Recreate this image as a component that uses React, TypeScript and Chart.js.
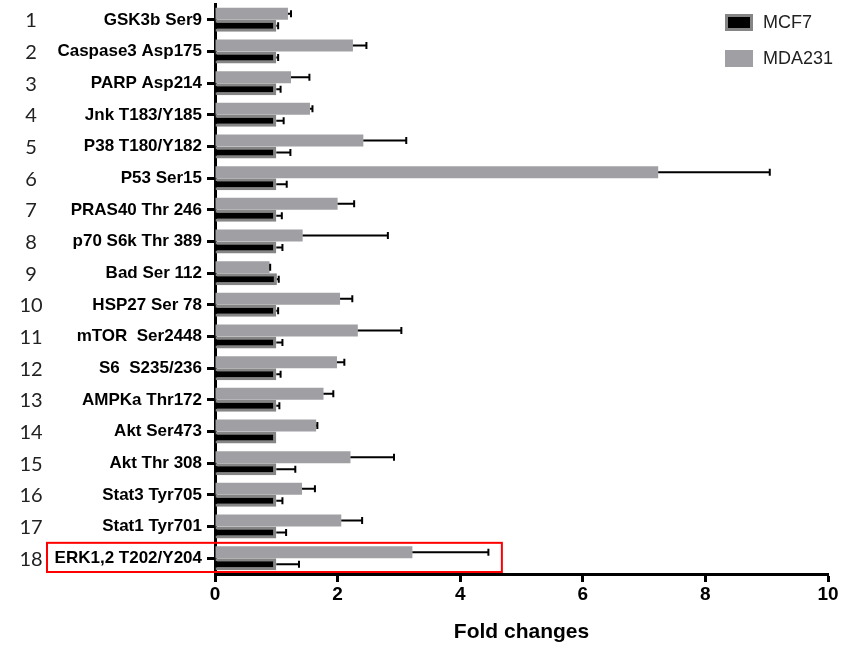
import React, { useEffect, useRef } from "react";
import { Chart, registerables } from "chart.js";

Chart.register(...registerables);

const categories = [
  "GSK3b Ser9",
  "Caspase3 Asp175",
  "PARP Asp214",
  "Jnk T183/Y185",
  "P38 T180/Y182",
  "P53 Ser15",
  "PRAS40 Thr 246",
  "p70 S6k Thr 389",
  "Bad Ser 112",
  "HSP27 Ser 78",
  "mTOR  Ser2448",
  "S6  S235/236",
  "AMPKa Thr172",
  "Akt Ser473",
  "Akt Thr 308",
  "Stat3 Tyr705",
  "Stat1 Tyr701",
  "ERK1,2 T202/Y204",
];
const rowNumbers = ["1", "2", "3", "4", "5", "6", "7", "8", "9", "10", "11", "12", "13", "14", "15", "16", "17", "18"];

const mcf7 = [1.0, 1.0, 1.0, 1.0, 1.0, 1.0, 1.0, 1.0, 1.01, 1.0, 1.0, 1.0, 1.0, 1.0, 1.0, 1.0, 1.0, 1.0];
const mcf7Err = [0.03, 0.03, 0.07, 0.12, 0.23, 0.17, 0.09, 0.1, 0.03, 0.03, 0.1, 0.07, 0.05, 0.0, 0.31, 0.1, 0.16, 0.37];
const mda231 = [1.19, 2.25, 1.24, 1.55, 2.42, 7.23, 2.0, 1.43, 0.89, 2.04, 2.33, 1.99, 1.77, 1.65, 2.21, 1.42, 2.06, 3.22];
const mda231Err = [0.05, 0.22, 0.3, 0.04, 0.7, 1.82, 0.27, 1.39, 0.01, 0.2, 0.71, 0.12, 0.16, 0.02, 0.71, 0.21, 0.34, 1.24];

const xTicks = [0, 2, 4, 6, 8, 10];
const highlightIndex = 17;
const highlightRight = 4.68;

const MDA_COLOR = "#a0a0a4";
const MCF_FILL = "#000000";
const MCF_BORDER = "#858585";

const decorPlugin = {
  id: "decor",
  afterDatasetsDraw(chart: any) {
    const ctx = chart.ctx;
    const xs = chart.scales.x;
    const errs = [mda231Err, mcf7Err];
    chart.data.datasets.forEach((ds: any, di: number) => {
      const meta = chart.getDatasetMeta(di);
      meta.data.forEach((bar: any, i: number) => {
        const v = ds.data[i] as number;
        const e = errs[di][i];
        if (!e) return;
        const x0 = xs.getPixelForValue(v);
        const x1 = xs.getPixelForValue(v + e);
        const yy = bar.y;
        ctx.save();
        ctx.strokeStyle = "#000";
        ctx.lineWidth = 2;
        ctx.beginPath();
        ctx.moveTo(x0, yy);
        ctx.lineTo(x1, yy);
        ctx.moveTo(x1, yy - 3.5);
        ctx.lineTo(x1, yy + 3.5);
        ctx.stroke();
        ctx.restore();
      });
    });
  },
  afterDraw(chart: any) {
    const ctx = chart.ctx;
    const ys = chart.scales.y;
    const xs = chart.scales.x;
    const area = chart.chartArea;
    const band = (area.bottom - area.top) / categories.length;

    // row numbers
    ctx.save();
    ctx.fillStyle = "#222";
    ctx.font = "20px Lato, 'Open Sans', sans-serif";
    ctx.textAlign = "center";
    ctx.textBaseline = "middle";
    rowNumbers.forEach((n, i) => {
      ctx.fillText(n, 31, ys.getPixelForValue(i) + 1);
    });
    ctx.restore();

    // highlight box
    const cy = ys.getPixelForValue(highlightIndex);
    const top = cy - band / 2 + 0.5;
    const bottom = cy + band / 2 - 2;
    const left = area.left - 168;
    const right = xs.getPixelForValue(highlightRight);
    ctx.save();
    ctx.strokeStyle = "#ff0000";
    ctx.lineWidth = 2;
    ctx.strokeRect(left, top, right - left, bottom - top);
    ctx.restore();

    // legend (MCF7 first, then MDA231)
    const items = [chart.data.datasets[1], chart.data.datasets[0]];
    ctx.save();
    ctx.font = "18px 'Liberation Sans', Arial, sans-serif";
    ctx.textBaseline = "middle";
    ctx.textAlign = "left";
    items.forEach((ds: any, k: number) => {
      const by = 14 + k * 36;
      const bx = 725;
      ctx.fillStyle = ds.borderWidth ? ds.borderColor : ds.backgroundColor;
      ctx.fillRect(bx, by, 28, 17);
      if (ds.borderWidth) {
        ctx.fillStyle = ds.backgroundColor;
        ctx.fillRect(bx + 3, by + 3, 22, 11);
      }
      ctx.fillStyle = "#222";
      ctx.fillText(ds.label, 763, by + 9);
    });
    ctx.restore();
  },
};

export default function App() {
  const ref = useRef<HTMLCanvasElement | null>(null);
  useEffect(() => {
    if (!ref.current) return;
    const chart = new Chart(ref.current, {
      type: "bar",
      data: {
        labels: categories,
        datasets: [
          {
            label: "MDA231",
            data: mda231,
            backgroundColor: MDA_COLOR,
            borderWidth: 0,
            categoryPercentage: 0.76,
            barPercentage: 1.0,
          },
          {
            label: "MCF7",
            data: mcf7,
            backgroundColor: MCF_FILL,
            borderColor: MCF_BORDER,
            borderWidth: 3,
            borderSkipped: "start",
            categoryPercentage: 0.76,
            barPercentage: 1.0,
          },
        ],
      },
      options: {
        indexAxis: "y",
        responsive: false,
        animation: false,
        layout: { padding: { left: 0, right: 31, top: 4, bottom: 0 } },
        plugins: {
          legend: { display: false },
          tooltip: { enabled: false },
        },
        scales: {
          y: {
            type: "category",
            z: 1,
            afterFit: (s: any) => {
              s.width = 215;
              s.paddingTop = 0;
              s.paddingBottom = 0;
            },
            grid: {
              display: true,
              offset: false,
              drawOnChartArea: false,
              drawTicks: true,
              tickLength: 8,
              tickWidth: 3,
              tickColor: "#000",
            },
            border: { display: true, color: "#000", width: 3 },
            ticks: {
              color: "#000",
              padding: 5,
              font: { family: "'Liberation Sans', Arial, sans-serif", size: 17, weight: "bold" },
            },
          },
          x: {
            type: "linear",
            min: 0,
            max: 10,
            z: 1,
            afterFit: (s: any) => {
              s.height = 77;
            },
            afterBuildTicks: (s: any) => {
              s.ticks = xTicks.map((v) => ({ value: v }));
            },
            grid: {
              display: true,
              drawOnChartArea: false,
              drawTicks: true,
              tickLength: 8,
              tickWidth: 3,
              tickColor: "#000",
            },
            border: { display: true, color: "#000", width: 3 },
            ticks: {
              color: "#000",
              padding: 1,
              maxRotation: 0,
              font: { family: "'Liberation Sans', Arial, sans-serif", size: 19, weight: "bold" },
            },
            title: {
              display: true,
              text: "Fold changes",
              color: "#000",
              padding: { top: 0, bottom: 6 },
              font: { family: "'Liberation Sans', Arial, sans-serif", size: 21, weight: "bold" },
            },
          },
        },
      },
      plugins: [decorPlugin],
    } as any);
    return () => chart.destroy();
  }, []);
  return (
    <div style={{ position: "absolute", left: 0, top: 0, width: 859, height: 651, background: "#fff" }}>
      <canvas ref={ref} width={859} height={651} style={{ display: "block" }} />
    </div>
  );
}
